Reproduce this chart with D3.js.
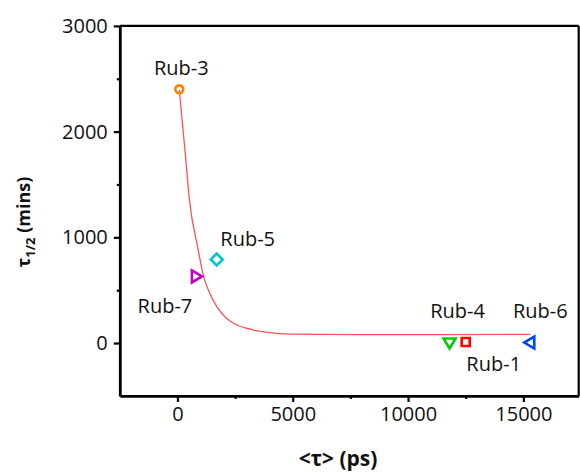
<!DOCTYPE html>
<html>
<head>
<meta charset="utf-8">
<script src="https://cdn.jsdelivr.net/npm/d3@7"></script>
<style>
  body { margin: 0; background: #fff; }
  svg { display: block; font-family: "Open Sans", sans-serif; }
</style>
</head>
<body>
<script>
// tau_1/2 vs <tau> chart

var names = ["Rub-3", "Rub-5", "Rub-7", "Rub-4", "Rub-1", "Rub-6"];
var tauAvg = [80, 1700, 800, 11800, 12500, 15300];      // <tau> (ps)
var tauHalf = [2400, 790, 630, 5, 10, 5];               // tau_1/2 (mins)

// fit curve
var fitX = [80, 325, 512, 902, 1119, 1366, 1735, 2125, 2537, 3231, 3925, 4879, 7914, 15290];
var fitY = [2394, 1826, 1369, 880, 643, 487, 336, 234, 175, 127, 101, 85, 80, 82];

var xTicks = [0, 5000, 10000, 15000];
var yTicks = [0, 1000, 2000, 3000];
var xMinor = [2500, 7500, 12500];
var yMinor = [500, 1500, 2500];

var width = 580;
var height = 473;

var svg = d3.select("body").append("svg")
    .attr("width", width)
    .attr("height", height);

var x = d3.scaleLinear().domain([-2500, 17400]).range([119.8, 578.7]);
var y = d3.scaleLinear().domain([-500, 3000]).range([395.9, 25.9]);

// frame top / right
svg.append("line")
    .attr("x1", x.range()[0]).attr("x2", x.range()[1])
    .attr("y1", y(3000)).attr("y2", y(3000))
    .attr("stroke", "#000").attr("stroke-width", 2.2);
svg.append("line")
    .attr("x1", x.range()[1]).attr("x2", x.range()[1])
    .attr("y1", y(3000)).attr("y2", y(-500))
    .attr("stroke", "#000").attr("stroke-width", 2.2);

// minor ticks
svg.append("g")
    .attr("transform", "translate(0," + y(-500) + ")")
    .call(d3.axisBottom(x).tickValues(xMinor).tickSize(3).tickSizeOuter(0).tickFormat(""))
    .call(function(g){ g.select(".domain").remove(); })
    .selectAll("line").attr("stroke-width", 2.2);
svg.append("g")
    .attr("transform", "translate(" + x(-2500) + ",0)")
    .call(d3.axisLeft(y).tickValues(yMinor).tickSize(3).tickSizeOuter(0).tickFormat(""))
    .call(function(g){ g.select(".domain").remove(); })
    .selectAll("line").attr("stroke-width", 2.2);

// major axes
var xAxis = svg.append("g")
    .attr("transform", "translate(0," + y(-500) + ")")
    .call(d3.axisBottom(x).tickValues(xTicks).tickFormat(d3.format("d"))
        .tickSize(6).tickSizeOuter(0).tickPadding(5));
var yAxis = svg.append("g")
    .attr("transform", "translate(" + x(-2500) + ",0)")
    .call(d3.axisLeft(y).tickValues(yTicks).tickFormat(d3.format("d"))
        .tickSize(6).tickSizeOuter(0).tickPadding(6));

[xAxis, yAxis].forEach(function(g) {
    g.select(".domain").attr("stroke-width", 2.8);
    g.selectAll(".tick line").attr("stroke-width", 2.2);
    g.selectAll(".tick text")
        .attr("font-family", "'Open Sans', sans-serif")
        .attr("font-size", 20)
        .attr("fill", "#111");
});

// fit curve
var fitPts = fitX.map(function(d, i){ return [d, fitY[i]]; });
svg.append("path")
    .datum(fitPts)
    .attr("fill", "none")
    .attr("stroke", "#ff5252")
    .attr("stroke-width", 1.3)
    .attr("d", d3.line()
        .x(function(d){ return x(d[0]); })
        .y(function(d){ return y(d[1]); })
        .curve(d3.curveMonotoneX));

// markers
var markerStyle = {
    "Rub-3": { color: "#ff8000", shape: "circle" },
    "Rub-5": { color: "#00c8c8", shape: "diamond" },
    "Rub-7": { color: "#c000c8", shape: "triRight" },
    "Rub-4": { color: "#00cc00", shape: "triDown" },
    "Rub-1": { color: "#ff0000", shape: "square" },
    "Rub-6": { color: "#0044ff", shape: "triLeft" }
};

function shapePath(shape) {
    if (shape === "circle") return d3.symbol(d3.symbolCircle, 50)();
    if (shape === "square") return "M-4,-4L4,-4L4,4L-4,4Z";
    if (shape === "diamond") return "M0,-6L6,0L0,6L-6,0Z";
    if (shape === "triDown") return "M-6,-4L6,-4L0,6Z";
    if (shape === "triRight") return "M-4,-6L6,0L-4,6Z";
    if (shape === "triLeft") return "M4,-6L-6,0L4,6Z";
}

var labelOffsets = {
    "Rub-3": [2, -14],
    "Rub-5": [31, -14],
    "Rub-7": [-31, 37],
    "Rub-4": [8, -25],
    "Rub-1": [28, 29],
    "Rub-6": [10, -25]
};

names.forEach(function(n, i) {
    var px = x(tauAvg[i]), py = y(tauHalf[i]);
    var st = markerStyle[n];
    svg.append("path")
        .attr("d", shapePath(st.shape))
        .attr("transform", "translate(" + px + "," + py + ")")
        .attr("fill", "none")
        .attr("stroke", st.color)
        .attr("stroke-width", 2.6);
    svg.append("text")
        .attr("x", px + labelOffsets[n][0])
        .attr("y", py + labelOffsets[n][1])
        .attr("text-anchor", "middle")
        .attr("font-size", 20)
        .attr("fill", "#111")
        .text(n);
});

// axis titles
svg.append("text")
    .attr("x", 338)
    .attr("y", 466)
    .attr("text-anchor", "middle")
    .attr("font-size", 21)
    .attr("font-weight", "bold")
    .attr("fill", "#111")
    .text("<τ> (ps)");

var yt = svg.append("text")
    .attr("transform", "translate(30,222) rotate(-90)")
    .attr("text-anchor", "middle")
    .attr("font-size", 18)
    .attr("font-weight", "bold")
    .attr("fill", "#111");
yt.append("tspan").text("τ");
yt.append("tspan").attr("font-size", 13).attr("dy", 5).text("1/2");
yt.append("tspan").attr("dy", -5).text(" (mins)");
</script>
</body>
</html>
